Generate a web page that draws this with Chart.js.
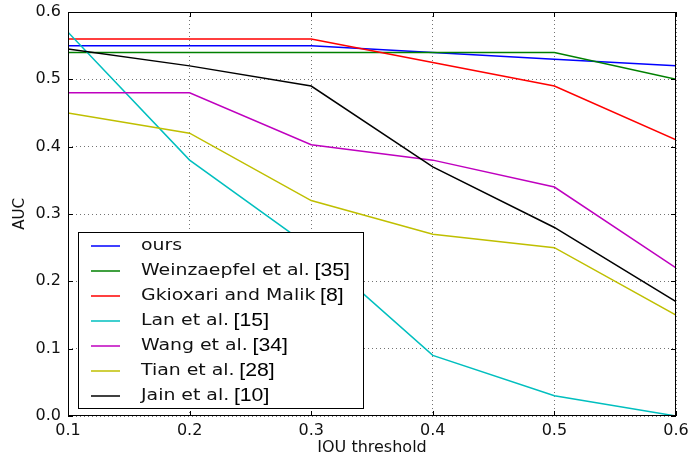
<!DOCTYPE html>
<html>
<head>
<meta charset="utf-8">
<script src="https://cdn.jsdelivr.net/npm/chart.js@4/dist/chart.umd.min.js"></script>
<style>
body { margin: 0; background: #fff; }
</style>
</head>
<body>
<canvas id="aucChart" width="688" height="458"></canvas>
<script>
const thresholds = [0.1, 0.2, 0.3, 0.4, 0.5, 0.6];
const ours = [0.55, 0.55, 0.55, 0.54, 0.53, 0.52];
const weinzaepfel = [0.54, 0.54, 0.54, 0.54, 0.54, 0.50];
const gkioxari = [0.56, 0.56, 0.56, 0.525, 0.49, 0.41];
const lan = [0.57, 0.38, 0.25, 0.09, 0.03, 0.0];
const wang = [0.48, 0.48, 0.403, 0.38, 0.34, 0.22];
const tian = [0.45, 0.42, 0.32, 0.27, 0.25, 0.15];
const jain = [0.545, 0.52, 0.49, 0.37, 0.28, 0.17];

const methodNames = ["ours", "Weinzaepfel et al.", "Gkioxari and Malik", "Lan et al.", "Wang et al.", "Tian et al.", "Jain et al."];
const methodRefs = ["", "[35]", "[8]", "[15]", "[34]", "[28]", "[10]"];
const methodValues = [ours, weinzaepfel, gkioxari, lan, wang, tian, jain];
const lineColors = ["#0000ff", "#008000", "#ff0000", "#00bfbf", "#bf00bf", "#bfbf00", "#000000"];

const FONT = "'DejaVu Sans', sans-serif";

// frame on all four sides plus matplotlib-style inward ticks
const framePlugin = {
	id: "frame",
	afterDatasetsDraw(chart) {
		const { ctx, chartArea: a, scales } = chart;
		ctx.save();
		ctx.strokeStyle = "#000";
		ctx.lineWidth = 1;
		ctx.strokeRect(a.left + 0.5, a.top + 0.5, a.right - a.left - 1, a.bottom - a.top - 1);
		ctx.beginPath();
		for (const t of scales.x.ticks) {
			const px = Math.round(scales.x.getPixelForValue(t.value)) + 0.5;
			ctx.moveTo(px, a.bottom); ctx.lineTo(px, a.bottom - 5);
			ctx.moveTo(px, a.top); ctx.lineTo(px, a.top + 5);
		}
		for (const t of scales.y.ticks) {
			const py = Math.round(scales.y.getPixelForValue(t.value)) + 0.5;
			ctx.moveTo(a.left, py); ctx.lineTo(a.left + 5, py);
			ctx.moveTo(a.right, py); ctx.lineTo(a.right - 5, py);
		}
		ctx.stroke();
		ctx.restore();
	}
};

// legend box in the lower left corner of the plot
// (text in the original is drawn a bit wider than the axis text)
const legendPlugin = {
	id: "boxLegend",
	afterDraw(chart) {
		const ctx = chart.ctx;
		const box = { x: 78, y: 232, w: 285, h: 176 };
		const stretch = 1.18;
		ctx.save();
		ctx.fillStyle = "#fff";
		ctx.fillRect(box.x, box.y, box.w, box.h);
		ctx.strokeStyle = "#000";
		ctx.lineWidth = 1;
		ctx.strokeRect(box.x + 0.5, box.y + 0.5, box.w, box.h);
		ctx.textBaseline = "middle";
		chart.data.datasets.forEach((ds, i) => {
			const y = 246 + i * 25;
			ctx.strokeStyle = ds.borderColor;
			ctx.lineWidth = 1.5;
			ctx.beginPath();
			ctx.moveTo(91, y);
			ctx.lineTo(120, y);
			ctx.stroke();

			ctx.save();
			ctx.translate(141, y);
			ctx.scale(stretch, 1);
			ctx.fillStyle = "#111";
			ctx.font = "16px " + FONT;
			ctx.fillText(methodNames[i], 0, 0);
			if (methodRefs[i]) {
				const w = ctx.measureText(methodNames[i]).width;
				ctx.font = "18px 'Liberation Sans', sans-serif";
				ctx.fillStyle = "#000";
				ctx.fillText(methodRefs[i], w + 4, 0);
			}
			ctx.restore();
		});
		ctx.restore();
	}
};

const datasets = methodValues.map((vals, i) => ({
	label: methodNames[i] + (methodRefs[i] ? " " + methodRefs[i] : ""),
	data: thresholds.map((t, j) => ({ x: t, y: vals[j] })),
	borderColor: lineColors[i],
	backgroundColor: lineColors[i],
	borderWidth: 1.5,
	pointRadius: 0,
	tension: 0,
	fill: false,
	order: methodValues.length - i
}));

const gridStyle = {
	color: "rgba(0,0,0,0.55)",
	lineWidth: 1,
	drawTicks: false
};

new Chart(document.getElementById("aucChart"), {
	type: "line",
	data: { datasets: datasets },
	options: {
		responsive: false,
		animation: false,
		layout: { padding: { top: 12, right: 12, left: 0, bottom: 0 } },
		plugins: {
			legend: { display: false },
			tooltip: { enabled: false }
		},
		scales: {
			x: {
				type: "linear",
				min: 0.1,
				max: 0.6,
				grid: gridStyle,
				border: { display: false, dash: [1, 3] },
				ticks: {
					stepSize: 0.1,
					padding: 5,
					color: "#111",
					font: { family: FONT, size: 16 },
					maxRotation: 0,
					callback: v => v.toFixed(1)
				},
				title: {
					display: true,
					text: "IOU threshold",
					color: "#111",
					font: { family: FONT, size: 16 },
					padding: { top: 0, bottom: 1 }
				},
				afterFit(scale) {
					scale.height = 42;
					scale.paddingLeft = 0;
					scale.paddingRight = 0;
				}
			},
			y: {
				min: 0,
				max: 0.6,
				grid: gridStyle,
				border: { display: false, dash: [1, 3] },
				ticks: {
					stepSize: 0.1,
					padding: 7,
					color: "#111",
					font: { family: FONT, size: 16 },
					callback: v => v.toFixed(1)
				},
				title: {
					display: true,
					text: "AUC",
					color: "#111",
					font: { family: FONT, size: 15 },
					padding: { top: 11, bottom: 0 }
				},
				afterFit(scale) {
					scale.width = 68;
					scale.paddingTop = 0;
					scale.paddingBottom = 0;
				}
			}
		}
	},
	plugins: [framePlugin, legendPlugin]
});
</script>
</body>
</html>
